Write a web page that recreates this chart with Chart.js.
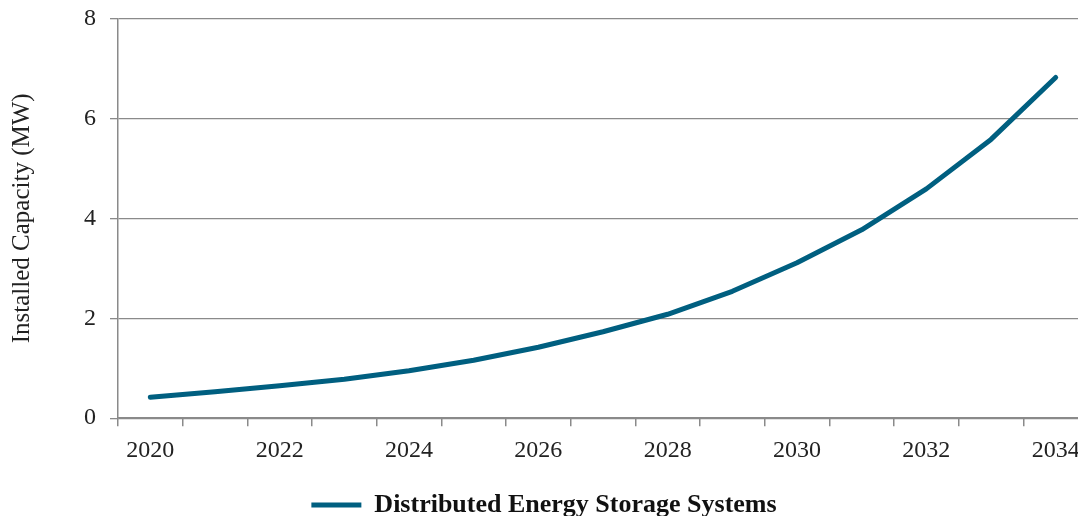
<!DOCTYPE html>
<html>
<head>
<meta charset="utf-8">
<script src="https://cdn.jsdelivr.net/npm/chart.js@4/dist/chart.umd.min.js"></script>
<style>
  html, body { margin: 0; padding: 0; background: #ffffff; overflow: hidden; }
  #wrap { position: absolute; left: 0; top: 0; width: 1090px; height: 528px; }
</style>
</head>
<body>
<div id="wrap"><canvas id="chart"></canvas></div>
<script>
// Forecast years
const years = ['2020', '2021', '2022', '2023', '2024', '2025', '2026', '2027',
               '2028', '2029', '2030', '2031', '2032', '2033', '2034'];

// Installed capacity, MW
const capacityMW = [0.42, 0.53, 0.65, 0.78, 0.95, 1.16, 1.42, 1.73,
                    2.08, 2.54, 3.11, 3.77, 4.59, 5.58, 6.82];

// Value axis ticks
const yTicks = [0, 2, 4, 6, 8];

const seriesName = 'Distributed Energy Storage Systems';
const yTitle = 'Installed Capacity (MW)';

const serif = '"Liberation Serif", "DejaVu Serif", serif';
const axisGrey = '#8a8a8a';
const lineBlue = '#005f80';

new Chart(document.getElementById('chart'), {
  type: 'line',
  data: {
    labels: years,
    datasets: [{
      label: seriesName,
      data: capacityMW,
      borderColor: lineBlue,
      backgroundColor: lineBlue,
      borderWidth: 5,
      borderCapStyle: 'round',
      borderJoinStyle: 'round',
      tension: 0,
      pointRadius: 0,
      pointHoverRadius: 0,
      fill: false
    }]
  },
  options: {
    responsive: true,
    maintainAspectRatio: false,
    animation: false,
    layout: { padding: { left: 0, right: 2, top: 18.5, bottom: 0 } },
    plugins: {
      tooltip: { enabled: false },
      legend: {
        position: 'bottom',
        labels: {
          usePointStyle: true,
          pointStyle: 'line',
          pointStyleWidth: 50,
          color: '#111111',
          font: { family: serif, size: 26, weight: 'bold' },
          padding: 10
        }
      }
    },
    scales: {
      x: {
        type: 'category',
        offset: true,
        afterFit: function (scale) { scale.height = 63.8; },
        grid: {
          display: true,
          offset: true,
          drawOnChartArea: false,
          drawTicks: true,
          tickLength: 8,
          color: axisGrey,
          lineWidth: 1.5
        },
        border: { display: true, color: axisGrey, width: 1.5 },
        ticks: {
          autoSkip: false,
          maxRotation: 0,
          minRotation: 0,
          padding: 10,
          color: '#222222',
          font: { family: serif, size: 24 },
          callback: function (value, index) {
            return index % 2 === 0 ? years[index] : '';
          }
        }
      },
      y: {
        min: yTicks[0],
        max: yTicks[yTicks.length - 1],
        afterFit: function (scale) {
          scale.width = 118;
          scale.paddingTop = 0;
          scale.paddingBottom = 0;
        },
        afterBuildTicks: function (scale) {
          scale.ticks = yTicks.map(v => ({ value: v }));
        },
        grid: {
          color: axisGrey,
          lineWidth: 1.3,
          tickLength: 8,
          drawTicks: true
        },
        border: { display: true, color: axisGrey, width: 1.5 },
        ticks: {
          padding: 14,
          color: '#222222',
          font: { family: serif, size: 24 }
        },
        title: {
          display: true,
          text: yTitle,
          color: '#222222',
          font: { family: serif, size: 25 },
          padding: { top: 7, bottom: 0 }
        }
      }
    }
  }
});
</script>
</body>
</html>
